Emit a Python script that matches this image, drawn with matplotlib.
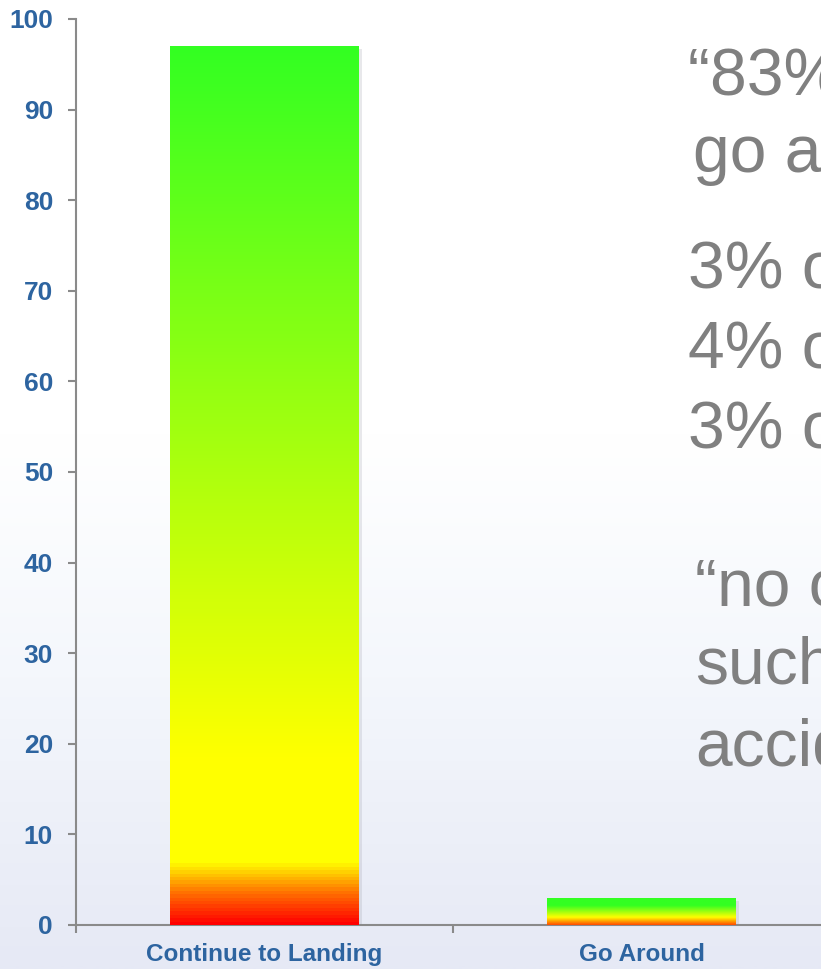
import numpy as np
import matplotlib
matplotlib.use("Agg")
import matplotlib.pyplot as plt
from matplotlib.colors import LinearSegmentedColormap
from matplotlib import patheffects as pe

# ---- data ----
categories = ["Continue to Landing", "Go Around"]
values = [97, 3]
y_ticks = [0, 10, 20, 30, 40, 50, 60, 70, 80, 90, 100]

side_lines = [
    "\u201c83% of pilots",
    "go around",
    "3% of",
    "4% of",
    "3% of",
    "\u201cno one",
    "such",
    "accidents",
]

# ---- style ----
W, H = 821, 969
label_blue = "#2d64a0"
axis_grey = "#8a8a8a"
text_grey = "#808080"

bar_gradients = [
    [(0.0, "#ff0000"), (0.035, "#ff7000"), (0.07, "#ffff00"),
     (0.19, "#ffff00"), (1.0, "#33ff22")],
    [(0.0, "#ff4a00"), (0.13, "#ff9a00"), (0.28, "#ffff00"),
     (0.70, "#33ff22"), (1.0, "#33ff22")],
]

plt.rcParams["font.family"] = ["Liberation Sans", "DejaVu Sans"]

fig = plt.figure(figsize=(W / 100, H / 100), dpi=100)

# page background: white fading into a pale lavender-blue at the bottom
bg = fig.add_axes([0, 0, 1, 1], zorder=0)
bg_cmap = LinearSegmentedColormap.from_list(
    "bg", [(0.0, "#ffffff"), (0.45, "#ffffff"), (0.70, "#f4f7fc"), (1.0, "#e6e9f5")])
grad = np.linspace(0, 1, 512).reshape(-1, 1)
bg.imshow(grad, aspect="auto", cmap=bg_cmap, extent=[0, 1, 0, 1], origin="upper")
bg.set_axis_off()

# main chart axes (extends slightly past the right edge)
left, right = 76 / W, 830 / W
bottom, top = 1 - 925 / H, 1 - 19 / H
ax = fig.add_axes([left, bottom, right - left, top - bottom], zorder=1)
ax.patch.set_alpha(0)

x = np.arange(len(categories))
bars = ax.bar(x, values, width=0.5, color="#ffffff", zorder=2,
              path_effects=[pe.SimplePatchShadow(offset=(2, -2), shadow_rgbFace="#9a9aa8", alpha=0.22),
                            pe.Normal()])

for rect, stops in zip(bars, bar_gradients):
    cmap = LinearSegmentedColormap.from_list("bar", stops, N=256)
    x0, y0 = rect.get_x(), rect.get_y()
    w, h = rect.get_width(), rect.get_height()
    im = ax.imshow(np.linspace(0, 1, 256).reshape(-1, 1), cmap=cmap, aspect="auto",
                   origin="lower", extent=[x0, x0 + w, y0, y0 + h], zorder=3)
    im.set_clip_path(rect)

ax.set_xlim(-0.5, len(categories) - 0.5)
ax.set_ylim(0, 100)

for side in ("top", "right"):
    ax.spines[side].set_visible(False)
for side in ("left", "bottom"):
    ax.spines[side].set_color(axis_grey)
    ax.spines[side].set_linewidth(1.5)

ax.set_yticks(y_ticks)
ax.set_yticklabels([str(v) for v in y_ticks])
ax.tick_params(axis="y", direction="out", length=5.5, width=1.5, color=axis_grey,
               pad=11, labelsize=19, labelcolor=label_blue)
for lbl in ax.get_yticklabels():
    lbl.set_fontweight("bold")

# category boundaries as major ticks, names as minor tick labels
ax.set_xticks(np.arange(-0.5, len(categories), 1.0))
ax.set_xticklabels([])
ax.set_xticks(x, minor=True)
ax.set_xticklabels(categories, minor=True)
ax.tick_params(axis="x", which="major", direction="out", length=5.5, width=1.5, color=axis_grey)
ax.tick_params(axis="x", which="minor", length=0, pad=13, labelsize=17.5, labelcolor=label_blue)
for lbl in ax.get_xticklabels(minor=True):
    lbl.set_fontweight("bold")

# quoted survey text on the right
baselines = [95, 172, 288, 368, 448, 605, 683, 765]
lefts = [688, 693, 688, 688, 688, 695, 695, 695]
for txt, yb, xl in zip(side_lines, baselines, lefts):
    fig.text(xl / W, 1 - yb / H, txt, fontsize=47.5, color=text_grey,
             va="baseline", ha="left", zorder=5)

fig.savefig("out.png", dpi=100)
